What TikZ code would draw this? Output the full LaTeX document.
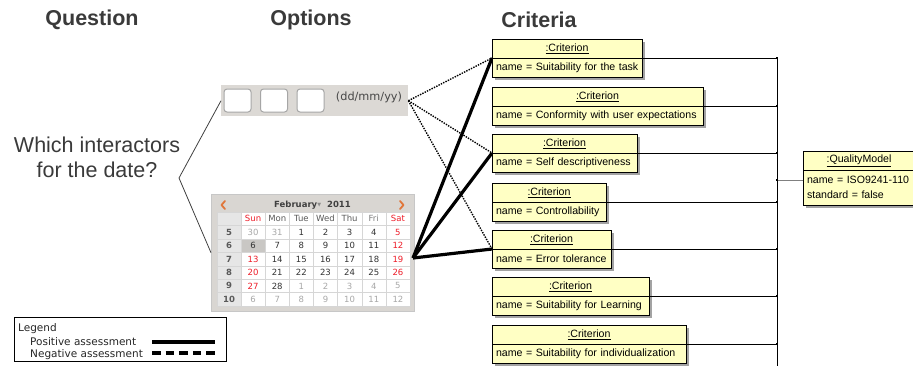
\documentclass[tikz,border=0pt]{standalone}
\usepackage{fontspec}
\setmainfont{Liberation Sans}
\newfontfamily\uifont{DejaVu Sans}
\usetikzlibrary{positioning}
\usetikzlibrary{shadows}

\definecolor{umlyellow}{HTML}{FFFFC4}
\definecolor{headgray}{HTML}{3A3A3A}
\definecolor{fieldbg}{HTML}{DCD9D5}
\definecolor{calbg}{HTML}{D9D6D2}
\definecolor{calline}{HTML}{D6D6D6}
\definecolor{calside}{HTML}{E6E6E6}
\definecolor{calsel}{HTML}{C9C7C4}
\definecolor{calk}{HTML}{333333}
\definecolor{calg}{HTML}{A8A8A8}
\definecolor{calr}{HTML}{EE1C28}
\definecolor{calarrow}{HTML}{E0763A}

\tikzset{
  heading/.style={font=\fontsize{21.5}{24}\selectfont\bfseries, text=headgray},
  question/.style={font=\fontsize{21.5}{25}\selectfont, text=headgray, align=center},
  crithead/.style={draw, fill=umlyellow, minimum height=19pt, inner sep=0pt, outer sep=0pt,
    anchor=north west, font=\fontsize{10.6}{12}\selectfont,
    drop shadow={shadow xshift=2.5pt, shadow yshift=-2.5pt, fill=black!45, opacity=.8}},
  critbody/.style={crithead, inner xsep=4pt, align=left, font=\fontsize{10.6}{15}\selectfont},
  joint/.style={fill=black, inner sep=0pt, minimum size=2.8pt},
  poslink/.style={line width=3.2pt},
  neglink/.style={line width=1.4pt, dash pattern=on 1.4pt off 1.2pt},
  qline/.style={draw=black!75, line width=0.8pt},
  entrybox/.style={draw=black!35, fill=white, rounded corners=3pt, line width=1pt,
    minimum width=27pt, minimum height=23pt},
  calday/.style={font=\uifont\fontsize{8.5}{10}\selectfont, inner sep=0pt},
  calweek/.style={calday, text=black!65, font=\uifont\bfseries\fontsize{8.5}{10}\selectfont},
  legendtext/.style={font=\uifont\fontsize{10.5}{12}\selectfont, text=black!85, inner sep=0pt},
}

\begin{document}
\begin{tikzpicture}[x=1pt, y=-1pt]
\useasboundingbox (0,0) rectangle (913,365);
\clip (0,0) rectangle (913,365);

% headings
\node[heading] (hquestion) at (92,20) {Question};
\node[heading] (hoptions) at (311,20) {Options};
\node[heading] (hcriteria) at (539,20) {Criteria};

\node[question] (q) at (97,157) {Which interactors\\for the date?};

% date field
\node[fill=fieldbg, minimum width=187pt, minimum height=31pt, anchor=north west, inner sep=0pt] (datefield) at (221,85) {};
\node[entrybox] (dd) at (237.5,100.5) {};
\node[entrybox] (mm) at (274,100.5) {};
\node[entrybox] (yy) at (310.5,100.5) {};
\node[font=\uifont\fontsize{11.3}{12}\selectfont, text=black!72] (fmt) at (369,97) {(dd/mm/yy)};

% calendar
\node[fill=calbg, draw=black!22, minimum width=203pt, minimum height=117pt, anchor=north west, inner sep=0pt] (cal) at (211,194) {};
\fill[white] (217,212) rectangle (410,306);
\fill[calside] (217,212) rectangle (241,306);
\fill[calsel] (241,238.86) rectangle (265.14,252.29);
\draw[calline] (217,212) -- (217,306);
\foreach \i in {0,...,7}
  \draw[calline] ({241+24.14*\i},212) -- ({241+24.14*\i},306);
\foreach \j in {0,...,7}
  \draw[calline] (217,{212+13.43*\j}) -- (410,{212+13.43*\j});
\draw[calarrow, line width=1.8pt, line cap=round, line join=round] (225,201) -- (221.5,205) -- (225,209);
\draw[calarrow, line width=1.8pt, line cap=round, line join=round] (400,201) -- (403.5,205) -- (400,209);
\node[font=\uifont\bfseries\fontsize{8.5}{10}\selectfont, text=black!75] (month) at (312.5,205)
  {February\raisebox{0.5pt}{\color{black!45}\mdseries\fontsize{5}{5}\selectfont ▼}\hspace{6pt}2011};
\foreach \col/\d [count=\c from 0] in {calr/Sun,black!65/Mon,black!65/Tue,black!65/Wed,black!65/Thu,black!50/Fri,calr/Sat}
  \node[calday, text=\col] (dn\c) at ({253.07+24.14*\c},218.7) {\d};
\foreach \w [count=\r] in {5,...,10}
  \node[calweek] (wk\r) at (229,{212+13.43*(\r+0.5)}) {\w};
\foreach \col/\n [count=\c from 0] in {calg/30,calg/31,calk/1,calk/2,calk/3,calk/4,calr/5}
  \node[calday, text=\col] (da\c) at ({253.07+24.14*\c},232.1) {\n};
\foreach \col/\n [count=\c from 0] in {calk/6,calk/7,calk/8,calk/9,calk/10,calk/11,calr/12}
  \node[calday, text=\col] (db\c) at ({253.07+24.14*\c},245.6) {\n};
\foreach \col/\n [count=\c from 0] in {calr/13,calk/14,calk/15,calk/16,calk/17,calk/18,calr/19}
  \node[calday, text=\col] (dc\c) at ({253.07+24.14*\c},259.0) {\n};
\foreach \col/\n [count=\c from 0] in {calr/20,calk/21,calk/22,calk/23,calk/24,calk/25,calr/26}
  \node[calday, text=\col] (dd\c) at ({253.07+24.14*\c},272.4) {\n};
\foreach \col/\n [count=\c from 0] in {calr/27,calk/28,calg/1,calg/2,calg/3,calg/4,calg/5}
  \node[calday, text=\col] (de\c) at ({253.07+24.14*\c},285.9) {\n};
\foreach \col/\n [count=\c from 0] in {calg/6,calg/7,calg/8,calg/9,calg/10,calg/11,calg/12}
  \node[calday, text=\col] (df\c) at ({253.07+24.14*\c},299.3) {\n};

% question to options
\coordinate (qtip) at (179,178);
\draw[qline] (datefield.west) -- (qtip) -- (cal.west);

% links options to criteria
\coordinate (pick) at (413,258);
\coordinate (c1in) at (492,58);
\coordinate (c3in) at (492,153);
\coordinate (c5in) at (492,249);
\draw[neglink] (datefield.east) -- (c1in);
\draw[neglink] (datefield.east) -- (c3in);
\draw[neglink] (datefield.east) -- (c5in);
\draw[poslink] (pick) -- (c1in);
\draw[poslink] (pick) -- (c3in);
\draw[poslink] (pick) -- (c5in);

% criteria
\node[crithead, minimum width=150pt] (c1h) at (492,39) {\underline{:Criterion}};
\node[critbody, text width=142pt] (c1b) at (c1h.south west) {\mbox{name = Suitability for the task}};
\node[crithead, minimum width=211pt] (c2h) at (492,87) {\underline{:Criterion}};
\node[critbody, text width=203pt] (c2b) at (c2h.south west) {\mbox{name = Conformity with user expectations}};
\node[crithead, minimum width=145pt] (c3h) at (492,134) {\underline{:Criterion}};
\node[critbody, text width=137pt] (c3b) at (c3h.south west) {\mbox{name = Self descriptiveness}};
\node[crithead, minimum width=114pt] (c4h) at (492,183) {\underline{:Criterion}};
\node[critbody, text width=106pt] (c4b) at (c4h.south west) {\mbox{name = Controllability}};
\node[crithead, minimum width=119pt] (c5h) at (492,230) {\underline{:Criterion}};
\node[critbody, text width=111pt] (c5b) at (c5h.south west) {\mbox{name = Error tolerance}};
\node[crithead, minimum width=157pt] (c6h) at (492,277) {\underline{:Criterion}};
\node[critbody, text width=149pt] (c6b) at (c6h.south west) {\mbox{name = Suitability for Learning}};
\node[crithead, minimum width=194pt] (c7h) at (492,325) {\underline{:Criterion}};
\node[critbody, text width=186pt] (c7b) at (c7h.south west) {\mbox{name = Suitability for individualization}};

% quality model
\node[crithead, minimum width=112pt] (qmh) at (803,151) {\underline{:QualityModel}};
\node[critbody, text width=104pt, minimum height=35pt] (qmb) at (qmh.south west) {name = ISO9241-110\\standard = false};

% bus
\coordinate (bustop) at (777,59);
\coordinate (busend) at (777,370);
\draw (bustop) -- (busend);
\draw (c1h.south east) -- (c1h.south east -| bustop) node[joint] {};
\draw (c2h.south east) -- (c2h.south east -| bustop) node[joint] {};
\draw (c3h.south east) -- (c3h.south east -| bustop) node[joint] {};
\draw (c4h.south east) -- (c4h.south east -| bustop) node[joint] {};
\draw (c5h.south east) -- (c5h.south east -| bustop) node[joint] {};
\draw (c6h.south east) -- (c6h.south east -| bustop) node[joint] {};
\draw (c7h.south east) -- (c7h.south east -| bustop) node[joint] {};
\coordinate (qmjoint) at (777,180);
\draw[black!50] (qmjoint -| qmb.west) -- (qmjoint) node[joint] {};

% legend
\node[draw, line width=1.4pt, minimum width=212pt, minimum height=44pt, anchor=north west, inner sep=0pt] (legend) at (14,317) {};
\node[legendtext, anchor=west] (legtitle) at (18,329) {Legend};
\node[legendtext, anchor=west] (legpos) at (30,342) {Positive assessment};
\node[legendtext, anchor=west] (legneg) at (30,355) {Negative assessment};
\coordinate (posa) at (152,342);
\coordinate (posb) at (215,342);
\coordinate (nega) at (152,353);
\coordinate (negb) at (215,353);
\draw[line width=4pt] (posa) -- (posb);
\draw[line width=3.5pt, dash pattern=on 8.6pt off 5pt] (nega) -- (negb);
\end{tikzpicture}
\end{document}
